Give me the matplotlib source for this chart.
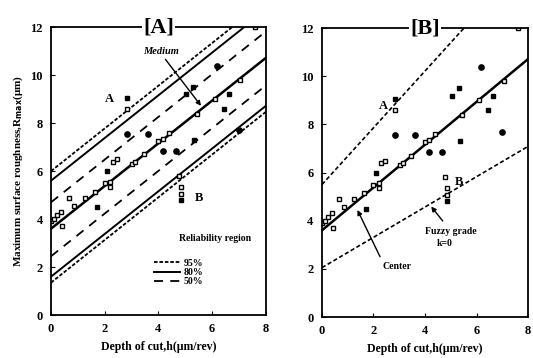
import numpy as np
import matplotlib
matplotlib.use('Agg')
import matplotlib.pyplot as plt

plt.rcParams['font.family'] = ['Liberation Serif', 'DejaVu Serif']
plt.rcParams['font.weight'] = 'bold'

# measured points (depth of cut, Rmax)
open_x = [0.0, 0.11, 0.23, 0.38, 0.42, 0.68, 0.87, 1.25, 1.63, 2.0, 2.2, 2.2, 2.3, 2.46,
          3.03, 3.14, 3.45, 4.0, 4.17, 4.4, 5.42, 6.1, 7.05, 7.6, 4.77, 4.85, 4.85, 2.84]
open_y = [3.9, 4.0, 4.15, 4.3, 3.7, 4.9, 4.55, 4.9, 5.15, 5.5, 5.55, 5.35, 6.4, 6.5,
          6.3, 6.4, 6.7, 7.26, 7.35, 7.6, 8.4, 9.0, 9.8, 12.0, 5.8, 5.35, 5.05, 8.6]
sq_x = [2.84, 2.08, 5.04, 5.3, 6.63, 6.44, 1.7, 5.34, 4.85]
sq_y = [9.05, 6.0, 9.2, 9.5, 9.2, 8.6, 4.5, 7.3, 4.8]
circ_x = [2.84, 3.6, 6.17, 7.0, 4.17, 4.66]
circ_y = [7.55, 7.55, 10.4, 7.7, 6.85, 6.85]

# regression / reliability lines: intercept at h=0 and slope
center = (3.6, 0.89)
band95 = [(6.0, 0.89), (1.35, 0.89)]
band80 = [(5.6, 0.89), (1.6, 0.89)]
band50 = [(4.7, 0.89), (2.45, 0.89)]
fuzzy = [(5.5, 1.18), (2.05, 0.63)]

h = np.array([0, 8.5])

fig = plt.figure(figsize=(5.33, 3.58), dpi=100)
axA = fig.add_axes([0.0957, 0.120, 0.403, 0.804])
axB = fig.add_axes([0.604, 0.1145, 0.387, 0.807])


def points(ax):
    ax.plot(open_x, open_y, 's', ms=3.2, mfc='white', mec='black', mew=1.0)
    ax.plot(sq_x, sq_y, 's', ms=3.2, color='black')
    ax.plot(circ_x, circ_y, 'o', ms=3.8, color='black')


def setup(ax, title):
    ax.set_xlim(0, 8)
    ax.set_ylim(0, 12)
    ax.set_xticks([0, 2, 4, 6, 8])
    ax.set_yticks([0, 2, 4, 6, 8, 10, 12])
    ax.tick_params(direction='in', labelsize=9, length=3, pad=6)
    for s in ax.spines.values():
        s.set_linewidth(1.3)
    ax.set_xlabel('Depth of cut,h(μm/rev)', fontsize=8.5, fontweight='bold')
    ax.text(0.5, 1.0, title, transform=ax.transAxes, ha='center', va='center',
            fontsize=16, fontweight='bold',
            bbox=dict(facecolor='white', edgecolor='none', pad=1))


# panel A
for b, e in band95:
    lA95, = axA.plot(h, b + e * h, color='black', lw=1.3, dashes=(2, 1), label='95%')
for b, e in band80:
    lA80, = axA.plot(h, b + e * h, color='black', lw=1.4, label='80%')
for b, e in band50:
    lA50, = axA.plot(h, b + e * h, color='black', lw=1.3, dashes=(5, 4), label='50%')
axA.plot(h, center[0] + center[1] * h, color='black', lw=1.8)
points(axA)
setup(axA, '[A]')
axA.set_ylabel('Maximum surface roughness,R$_{\\mathbf{max}}$(μm)', fontsize=8, fontweight='bold')
axA.text(2.35, 9.0, 'A', fontsize=9, fontweight='bold', ha='right', va='center')
axA.text(5.35, 4.9, 'B', fontsize=9, fontweight='bold', va='center')
axA.text(4.1, 10.9, 'Medium', fontsize=7.5, style='italic', fontweight='bold', ha='center')
axA.annotate('', xy=(5.65, 8.63), xytext=(4.2, 10.75),
             arrowprops=dict(arrowstyle='-|>', color='black', lw=1.0, mutation_scale=7))
axA.text(6.1, 3.1, 'Reliability region', fontsize=7, fontweight='bold', ha='center')
axA.legend(handles=[lA95, lA80, lA50], loc='upper left', bbox_to_anchor=(0.45, 0.22),
           frameon=False, fontsize=7, handlelength=2.6, handletextpad=0.4,
           labelspacing=0.05, borderpad=0.2)

# panel B
for b, e in fuzzy:
    axB.plot(h, b + e * h, color='black', lw=1.2, dashes=(2.5, 1.5))
axB.plot(h, center[0] + center[1] * h, color='black', lw=1.8)
points(axB)
setup(axB, '[B]')
axB.text(2.55, 8.75, 'A', fontsize=9, fontweight='bold', ha='right', va='center')
axB.text(5.15, 5.6, 'B', fontsize=9, fontweight='bold', va='center')
axB.text(2.9, 2.0, 'Center', fontsize=7, fontweight='bold', ha='center')
axB.annotate('', xy=(1.33, 4.55), xytext=(2.3, 2.4),
             arrowprops=dict(arrowstyle='-|>', color='black', lw=1.0, mutation_scale=7))
axB.text(5.0, 3.45, 'Fuzzy grade', fontsize=7, fontweight='bold', ha='center')
axB.text(4.75, 2.95, 'k=0', fontsize=7, fontweight='bold', ha='center')
axB.annotate('', xy=(4.17, 4.68), xytext=(4.75, 3.9),
             arrowprops=dict(arrowstyle='-|>', color='black', lw=1.0, mutation_scale=7))

fig.savefig('out.png', dpi=100)
